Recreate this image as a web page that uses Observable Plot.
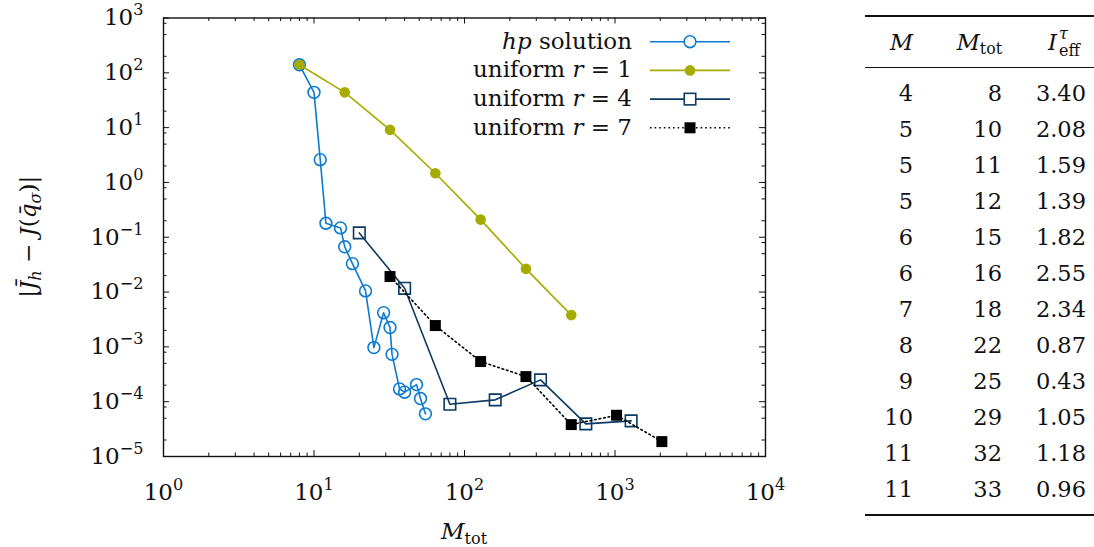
<!DOCTYPE html>
<html>
<head>
<meta charset="utf-8">
<script src="https://cdn.jsdelivr.net/npm/d3@7"></script>
<script src="https://cdn.jsdelivr.net/npm/@observablehq/plot@0.6"></script>
<style>
  html, body { margin: 0; padding: 0; background: #fff; }
  body { width: 1094px; height: 547px; position: relative; overflow: hidden;
         font-family: "DejaVu Serif", serif; color: #111; }
  #chart { position: absolute; left: 0; top: 0; }
  #tbl { position: absolute; left: 865px; top: 14.7px; }
  table { border-collapse: collapse; table-layout: fixed; width: 229px; font-size: 22.5px; }
  th, td { padding: 0; text-align: right; font-weight: normal; white-space: nowrap; }
  thead tr { border-top: 2px solid #111; border-bottom: 1.3px solid #111; }
  thead th { height: 51px; line-height: 50px; box-sizing: border-box; }
  tbody td { height: 36px; line-height: 36px; }
  tbody tr:first-child td { padding-top: 7px; }
  tbody tr:last-child td { padding-bottom: 7px; }
  tbody tr:last-child { border-bottom: 2px solid #111; }
  .st { display: inline-block; position: relative; width: 29px; height: 22px; }
  .st span { position: absolute; left: 2px; font-size: 16px; line-height: 16px; }
  .st .up { top: -2px; }
  .st .dn { top: 15px; }
  sub.t { font-size: 0.7em; vertical-align: -0.25em; line-height: 0; }
</style>
</head>
<body>
<div id="chart"></div>
<div id="tbl"></div>
<script>
// Error of the mean goal functional versus total number of collocation points
const hpMtot = [8, 10, 11, 12, 15, 16, 18, 22, 25, 29, 32, 33, 37, 40, 48, 51, 55];
const hpErr  = [140, 44, 2.6, 0.18, 0.148, 0.067, 0.033, 0.0105, 0.00097, 0.0042,
                0.00225, 0.00073, 0.000171, 0.000149, 0.000205, 0.000114, 0.00006];

const r1Mtot = [8, 16, 32, 64, 128, 256, 512];
const r1Err  = [140, 44, 9.1, 1.47, 0.21, 0.0265, 0.0038];

const r4Mtot = [20, 40, 80, 160, 320, 640, 1280];
const r4Err  = [0.12, 0.0117, 0.00009, 0.000108, 0.00025, 0.0000394, 0.0000447];

const r7Mtot = [32, 64, 128, 256, 512, 1024, 2048];
const r7Err  = [0.0192, 0.00245, 0.00054, 0.000287, 0.0000382, 0.0000565, 0.0000187];

// Adaptive refinement history (table)
const tblM    = [4, 5, 5, 5, 6, 6, 7, 8, 9, 10, 11, 11];
const tblMtot = [8, 10, 11, 12, 15, 16, 18, 22, 25, 29, 32, 33];
const tblIeff = ["3.40", "2.08", "1.59", "1.39", "1.82", "2.55", "2.34", "0.87", "0.43", "1.05", "1.18", "0.96"];

// Axis decades
const xExp = [0, 1, 2, 3, 4];
const yExp = [-5, -4, -3, -2, -1, 0, 1, 2, 3];

const blue = "#0b7ad1", olive = "#a6ab00", navy = "#0b3a62", black = "#000";
const FONT = '"DejaVu Serif", serif';
const FS = 23;

const W = 830, H = 547;
const mL = 163, mR = W - 765, mT = 17.5, mB = H - 456;
const fw = W - mL - mR, fh = H - mT - mB;

const rows = (xs, ys) => xs.map((x, i) => ({x, y: ys[i]}));
const hp = rows(hpMtot, hpErr), r1 = rows(r1Mtot, r1Err), r4 = rows(r4Mtot, r4Err), r7 = rows(r7Mtot, r7Err);

const xMajor = xExp.map(e => 10 ** e);
const yMajor = yExp.map(e => 10 ** e);
const xMinor = xExp.slice(0, -1).flatMap(e => d3.range(2, 10).map(k => k * 10 ** e));
const yMinor = yExp.slice(0, -1).flatMap(e => [2, 5, 8].map(k => k * 10 ** e));

const sup = (v) => { const e = Math.round(Math.log10(v)); return "10^" + (e < 0 ? "\u2212" + (-e) : e); };

const majLen = 6, minLen = 3.5;
const tickStyle = {stroke: "#111", strokeWidth: 1};

const svg = Plot.plot({
  width: W, height: H,
  marginLeft: mL, marginRight: mR, marginTop: mT, marginBottom: mB,
  style: {fontFamily: FONT, fontSize: FS + "px", color: "#111", background: "transparent", overflow: "visible"},
  x: {type: "log", domain: [1, 1e4]},
  y: {type: "log", domain: [1e-5, 1e3]},
  marks: [
    // inward ticks on all four sides
    Plot.ruleX(xMajor, {...tickStyle, insetTop: fh - majLen}),
    Plot.ruleX(xMajor, {...tickStyle, insetBottom: fh - majLen}),
    Plot.ruleX(xMinor, {...tickStyle, insetTop: fh - minLen}),
    Plot.ruleX(xMinor, {...tickStyle, insetBottom: fh - minLen}),
    Plot.ruleY(yMajor, {...tickStyle, insetRight: fw - majLen}),
    Plot.ruleY(yMajor, {...tickStyle, insetLeft: fw - majLen}),
    Plot.ruleY(yMinor, {...tickStyle, insetRight: fw - minLen}),
    Plot.ruleY(yMinor, {...tickStyle, insetLeft: fw - minLen}),
    Plot.frame({stroke: "#111", strokeWidth: 1.4}),
    Plot.axisX({ticks: xMajor, tickSize: 0, tickPadding: 27, tickFormat: sup, label: null}),
    Plot.axisY({ticks: yMajor, tickSize: 0, tickPadding: 20, tickFormat: sup, label: null}),
    // hp solution
    Plot.line(hp, {x: "x", y: "y", stroke: blue, strokeWidth: 1.6}),
    Plot.dot(hp, {x: "x", y: "y", r: 5.9, stroke: blue, strokeWidth: 1.6, fill: "none"}),
    // uniform r = 1
    Plot.line(r1, {x: "x", y: "y", stroke: olive, strokeWidth: 1.6}),
    Plot.dot(r1, {x: "x", y: "y", r: 5.3, fill: olive, stroke: "none"}),
    // uniform r = 4
    Plot.line(r4, {x: "x", y: "y", stroke: navy, strokeWidth: 1.6}),
    Plot.dot(r4, {x: "x", y: "y", symbol: "square", r: 6.5, stroke: navy, strokeWidth: 1.6, fill: "none"}),
    // uniform r = 7
    Plot.line(r7, {x: "x", y: "y", stroke: black, strokeWidth: 1.6, strokeDasharray: "1.6,3"}),
    Plot.dot(r7, {x: "x", y: "y", symbol: "square", r: 6.2, fill: black, stroke: "none"})
  ]
});

const S = d3.select(svg);

// Tick labels as 10 with a raised exponent
S.selectAll('g[aria-label="x-axis tick label"] text, g[aria-label="y-axis tick label"] text').each(function () {
  const [b, e] = this.textContent.split("^");
  const t = d3.select(this);
  t.text(b);
  t.append("tspan").attr("dy", "-0.62em").attr("font-size", "0.7em").text(e);
});

// Rich text helper: parts = [text, {italic, sub}]
function rich(sel, parts, fs) {
  let shift = 0;
  for (const [txt, o = {}] of parts) {
    const target = o.sub ? 5 : 0;
    const ts = sel.append("tspan").text(txt);
    if (o.italic) ts.attr("font-style", "italic");
    if (o.sub) ts.attr("font-size", fs * 0.7);
    if (target !== shift) { ts.attr("dy", target - shift); shift = target; }
  }
}

// Axis titles
const yl = S.append("text")
  .attr("transform", `translate(36,${mT + fh / 2}) rotate(-90)`)
  .attr("text-anchor", "middle").attr("font-size", FS).attr("fill", "#111");
rich(yl, [["|"], ["J\u0304", {italic: true}], ["h", {italic: true, sub: true}], [" \u2212 "],
          ["J", {italic: true}], ["("], ["q\u0304", {italic: true}], ["\u03c3", {italic: true, sub: true}], [")|"]], FS);

const xl = S.append("text")
  .attr("x", mL + fw / 2).attr("y", 539)
  .attr("text-anchor", "middle").attr("font-size", FS).attr("fill", "#111");
rich(xl, [["M", {italic: true}], ["tot", {sub: true}]], FS);

// Legend
const legend = [
  {parts: [["hp", {italic: true}], [" solution"]], color: blue, kind: "circleOpen"},
  {parts: [["uniform "], ["r", {italic: true}], [" = 1"]], color: olive, kind: "circleFill"},
  {parts: [["uniform "], ["r", {italic: true}], [" = 4"]], color: navy, kind: "squareOpen"},
  {parts: [["uniform "], ["r", {italic: true}], [" = 7"]], color: black, kind: "squareFill", dash: "1.6,3"}
];
const lg = S.append("g");
legend.forEach((it, i) => {
  const cy = 41.7 + i * 28.7;
  const t = lg.append("text").attr("x", 632).attr("y", cy + 7).attr("text-anchor", "end")
    .attr("font-size", FS).attr("fill", "#111");
  rich(t, it.parts, FS);
  const ln = lg.append("line").attr("x1", 650).attr("x2", 730).attr("y1", cy).attr("y2", cy)
    .attr("stroke", it.color).attr("stroke-width", 1.6);
  if (it.dash) ln.attr("stroke-dasharray", it.dash);
  if (it.kind === "circleOpen") lg.append("circle").attr("cx", 690).attr("cy", cy).attr("r", 5.9)
    .attr("fill", "#fff").attr("stroke", it.color).attr("stroke-width", 1.6);
  if (it.kind === "circleFill") lg.append("circle").attr("cx", 690).attr("cy", cy).attr("r", 5.3)
    .attr("fill", it.color);
  if (it.kind === "squareOpen") lg.append("rect").attr("x", 690 - 5.75).attr("y", cy - 5.75)
    .attr("width", 11.5).attr("height", 11.5).attr("fill", "#fff").attr("stroke", it.color).attr("stroke-width", 1.6);
  if (it.kind === "squareFill") lg.append("rect").attr("x", 690 - 5.5).attr("y", cy - 5.5)
    .attr("width", 11).attr("height", 11).attr("fill", it.color);
});

document.getElementById("chart").appendChild(svg);

// Table
const tbl = d3.select("#tbl").append("table");
const cg = tbl.append("colgroup");
[48, 89, 84, 8].forEach(w => cg.append("col").style("width", w + "px"));
tbl.append("thead").append("tr").html(
  '<th><i>M</i></th>' +
  '<th><i>M</i><sub class="t">tot</sub></th>' +
  '<th><i>I</i><span class="st"><span class="up"><i>\u03c4</i></span><span class="dn">eff</span></span></th><th></th>');
const tb = tbl.append("tbody");
tblM.forEach((m, i) => {
  const tr = tb.append("tr");
  tr.append("td").text(m);
  tr.append("td").text(tblMtot[i]);
  tr.append("td").text(tblIeff[i]);
  tr.append("td");
});
</script>
</body>
</html>
